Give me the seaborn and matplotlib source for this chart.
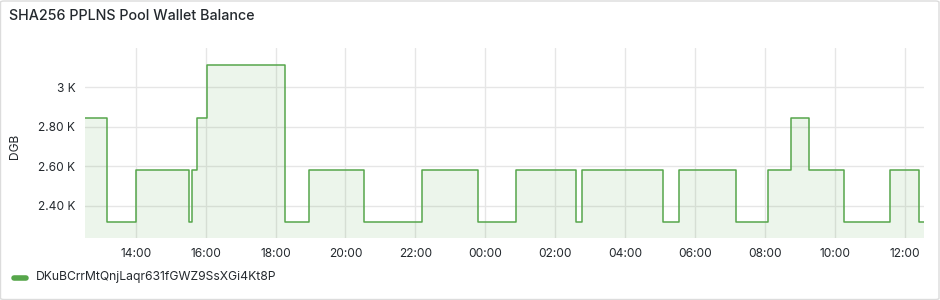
import matplotlib
matplotlib.use("Agg")
import matplotlib.pyplot as plt
import matplotlib.dates as mdates
from matplotlib.patches import FancyBboxPatch
from matplotlib.ticker import FuncFormatter, MultipleLocator
import seaborn as sns
import pandas as pd

# ---- data ----
times = ["2024-05-01 12:33", "2024-05-01 13:11", "2024-05-01 14:01", "2024-05-01 15:32",
         "2024-05-01 15:36", "2024-05-01 15:46", "2024-05-01 16:02", "2024-05-01 18:16",
         "2024-05-01 18:57", "2024-05-01 20:31", "2024-05-01 22:12", "2024-05-01 23:47",
         "2024-05-02 00:52", "2024-05-02 02:36", "2024-05-02 02:46", "2024-05-02 05:05",
         "2024-05-02 05:32", "2024-05-02 07:11", "2024-05-02 08:06", "2024-05-02 08:45",
         "2024-05-02 09:16", "2024-05-02 10:16", "2024-05-02 11:35", "2024-05-02 12:24",
         "2024-05-02 12:33"]
balance = [2844, 2318, 2580, 2318, 2580, 2844, 3111, 2318,
           2580, 2318, 2580, 2318, 2580, 2318, 2580, 2318,
           2580, 2318, 2580, 2844, 2580, 2318, 2580, 2318,
           2318]
series_name = "DKuBCrrMtQnjLaqr631fGWZ9SsXGi4Kt8P"
title = "SHA256 PPLNS Pool Wallet Balance"
y_label = "DGB"

df = pd.DataFrame({"time": pd.to_datetime(times), "balance": balance})

sns.set_theme(style="white")
plt.rcParams["font.family"] = ["Inter", "DejaVu Sans"]

GREEN = "#56a64b"
TEXT = "#24292e"
GRID = "#e6e6e6"

fig = plt.figure(figsize=(9.4, 3.0), dpi=100)
fig.patch.set_facecolor("white")
# panel border
fig.patches.append(FancyBboxPatch((0.5 / 940, 0.5 / 300), 938.5 / 940, 298.5 / 300,
                                  boxstyle="round,pad=0,rounding_size=0.004",
                                  transform=fig.transFigure, fill=False,
                                  edgecolor="#dcdcdc", linewidth=1.0))

ax = fig.add_axes([85 / 940, 1 - 238 / 300, (924 - 85) / 940, (238 - 48) / 300])

sns.lineplot(data=df, x="time", y="balance", ax=ax, color=GREEN, linewidth=1.1,
             drawstyle="steps-post", estimator=None, legend=False, zorder=3)
ax.fill_between(df["time"], df["balance"], 0, step="post", color=GREEN,
                alpha=0.11, linewidth=0, zorder=2)

ax.set_xlim(df["time"].iloc[0], df["time"].iloc[-1])
ax.set_ylim(2236, 3198)

ax.yaxis.set_major_locator(MultipleLocator(200))


def kfmt(v, pos):
    if abs(v % 1000) < 1e-6:
        return f"{v / 1000:.0f} K"
    return f"{v / 1000:.2f} K"


ax.yaxis.set_major_formatter(FuncFormatter(kfmt))
ax.xaxis.set_major_locator(mdates.HourLocator(byhour=range(0, 24, 2)))
ax.xaxis.set_major_formatter(mdates.DateFormatter("%H:%M"))

ax.grid(True, color=GRID, linewidth=1.0, zorder=0)
ax.set_axisbelow(True)
for s in ax.spines.values():
    s.set_visible(False)
ax.tick_params(axis="both", length=0, labelsize=8.6, labelcolor=TEXT)
ax.tick_params(axis="y", pad=7)
ax.tick_params(axis="x", pad=7)
ax.set_xlabel("")
ax.set_ylabel("")

fig.text(15 / 940, 1 - 146 / 300, y_label, rotation=90, ha="center", va="center",
         fontsize=8.6, color=TEXT)
fig.text(9 / 940, 1 - 16 / 300, title, ha="left", va="center",
         fontsize=10.3, color=TEXT, fontweight="medium")

# legend
fig.lines.append(plt.Line2D([13.5 / 940, 25.5 / 940], [1 - 277.5 / 300, 1 - 277.5 / 300],
                            transform=fig.transFigure, color=GREEN, linewidth=4,
                            solid_capstyle="round"))
fig.text(36 / 940, 1 - 277 / 300, series_name, ha="left", va="center",
         fontsize=8.75, color=TEXT)

fig.savefig("out.png", dpi=100, facecolor="white")
